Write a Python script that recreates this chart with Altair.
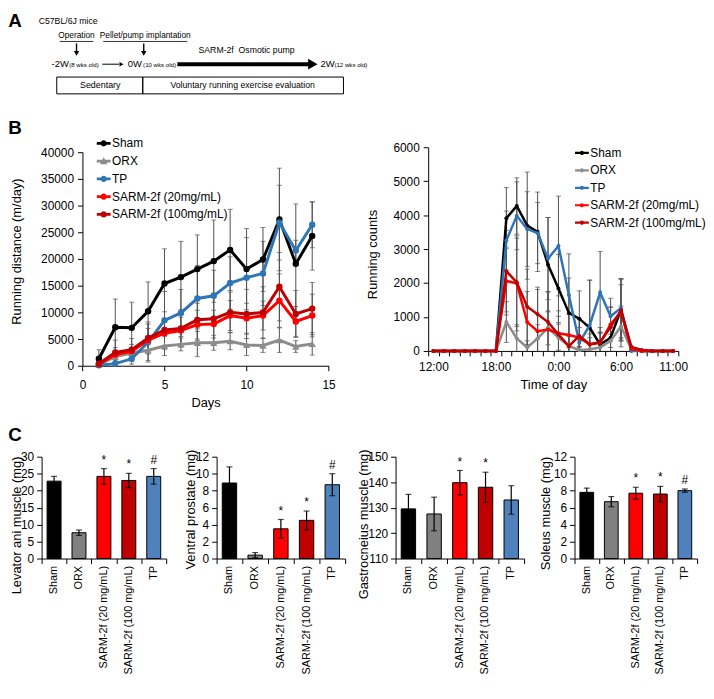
import altair as alt
import pandas as pd

FONT = "Liberation Sans, Arial, Helvetica, sans-serif"

# ======================= DATA =======================
series = ["Sham", "ORX", "TP", "SARM-2f (20mg/mL)", "SARM-2f (100mg/mL)"]
series_colors = ["#000000", "#8c8c8c", "#2e75b6", "#ff0000", "#c00000"]

# Panel B (left): running distance, m/day
days = [1, 2, 3, 4, 5, 6, 7, 8, 9, 10, 11, 12, 13, 14]
dist_sham = [1300, 7200, 7100, 10200, 15400, 16600, 18100, 19600, 21700, 18100, 19900, 27400, 19100, 24300]
dist_orx = [200, 1700, 2400, 2900, 3700, 4000, 4300, 4300, 4600, 3900, 3800, 4800, 3600, 4100]
dist_tp = [100, 400, 1300, 4400, 8500, 9900, 12600, 13100, 15500, 16500, 17300, 26800, 21600, 26400]
dist_s20 = [300, 2100, 2700, 4800, 6100, 6600, 7700, 7800, 9400, 8900, 9400, 12200, 8300, 9400]
dist_s100 = [400, 2500, 3000, 5200, 6700, 7000, 8600, 8800, 10000, 9700, 10000, 14800, 9700, 10700]
sd_dist_sham = [1700, 5300, 4800, 5500, 6500, 6700, 6400, 7700, 7600, 7600, 6000, 9600, 11200, 6400]
sd_dist_orx = [300, 800, 900, 2200, 1800, 1200, 2600, 1400, 1600, 2000, 1300, 2300, 1100, 2100]
sd_dist_tp = [300, 700, 1000, 3400, 5400, 4400, 6200, 4800, 4900, 7500, 6000, 7000, 1900, 4300]
sd_dist_s20 = [400, 1300, 1300, 2200, 2600, 2500, 2700, 2600, 2800, 2800, 2700, 5000, 2800, 4000]
sd_dist_s100 = [500, 2300, 2100, 3000, 3400, 3500, 3900, 4800, 3800, 4600, 4800, 6400, 4400, 4900]

# Panel B (right): running counts by time of day
hours = ["12:00", "13:00", "14:00", "15:00", "16:00", "17:00", "18:00", "19:00",
         "20:00", "21:00", "22:00", "23:00", "0:00", "1:00", "2:00", "3:00",
         "4:00", "5:00", "6:00", "7:00", "8:00", "9:00", "10:00", "11:00"]
hour_labels = ["12:00", "18:00", "0:00", "6:00", "11:00"]
cnt_sham = [0, 0, 0, 0, 0, 0, 0, 3910, 4270, 3690, 3510, 2540, 1840, 1120, 950, 680, 190, 390, 1210, 20, 0, 0, 0, 0]
cnt_orx = [0, 0, 0, 0, 0, 0, 0, 850, 370, 100, 370, 680, 390, 150, 20, 50, 100, 300, 720, 50, 0, 0, 0, 0]
cnt_tp = [0, 0, 0, 0, 0, 0, 0, 3250, 3980, 3590, 3470, 2720, 3090, 1650, 240, 760, 1720, 1020, 1260, 0, 0, 0, 0, 0]
cnt_s20 = [0, 0, 0, 0, 0, 0, 0, 2060, 1990, 850, 580, 630, 520, 470, 390, 190, 240, 780, 1150, 60, 0, 0, 0, 0]
cnt_s100 = [0, 0, 0, 0, 0, 0, 0, 2350, 2020, 1300, 1080, 850, 480, 140, 440, 200, 260, 700, 1200, 120, 30, 0, 0, 0]
sd_cnt_sham = [0, 0, 0, 0, 0, 0, 0, 900, 830, 1580, 1170, 1390, 1000, 1030, 820, 1400, 500, 400, 920, 0, 0, 0, 0, 0]
sd_cnt_orx = [0, 0, 0, 0, 0, 0, 0, 600, 400, 200, 400, 500, 400, 300, 100, 150, 200, 400, 600, 0, 0, 0, 0, 0]
sd_cnt_tp = [0, 0, 0, 0, 0, 0, 0, 870, 1000, 1100, 900, 1210, 1470, 1210, 700, 1330, 1210, 530, 870, 0, 0, 0, 0, 0]
sd_cnt_s20 = [0, 0, 0, 0, 0, 0, 0, 1000, 1400, 900, 1300, 1100, 500, 600, 300, 200, 300, 500, 800, 0, 0, 0, 0, 0]
sd_cnt_s100 = [0, 0, 0, 0, 0, 0, 0, 1200, 1300, 1110, 730, 900, 700, 300, 500, 300, 300, 600, 900, 0, 0, 0, 0, 0]

# Panel C: organ weights
groups = ["Sham", "ORX", "SARM-2f (20 mg/mL)", "SARM-2f (100 mg/mL)", "TP"]
group_colors = ["#000000", "#808080", "#ff0000", "#c00000", "#4f81bd"]
levator_mean = [22.8, 7.6, 24.2, 23.0, 24.2]
levator_sd = [1.4, 0.8, 2.3, 2.1, 2.3]
levator_sig = ["", "", "*", "*", "#"]
prostate_mean = [8.9, 0.4, 3.5, 4.5, 8.7]
prostate_sd = [1.9, 0.3, 1.1, 1.1, 1.3]
prostate_sig = ["", "", "*", "*", "#"]
gastro_mean = [129.5, 127.5, 139.8, 138.0, 133.0]
gastro_sd = [5.7, 6.6, 4.8, 5.9, 5.6]
gastro_sig = ["", "", "*", "*", ""]
soleus_mean = [7.8, 6.7, 7.7, 7.6, 8.0]
soleus_sd = [0.5, 0.6, 0.7, 0.9, 0.2]
soleus_sig = ["", "", "*", "*", "#"]

# ======================= HELPERS =======================
ERR = "#505050"
ORIGIN = 33.7          # common left origin of every row (canvas px)
SHIFT_B = 41.3         # extra inset of the left line chart's plot area
DROP_L = 5             # left line chart's plot sits a little lower than the right one


def long_frame(xname, xs, means, sds):
    rows = []
    for s, m_list, sd_list in zip(series, means, sds):
        for x, m, sd in zip(xs, m_list, sd_list):
            rows.append({xname: x, "s": s, "v": m, "sd": sd,
                         "lo": max(m - sd, 0), "hi": m + sd})
    return pd.DataFrame(rows)


def caps_frame(df, xname):
    rows = []
    for _, r in df[df.sd > 0].iterrows():
        rows.append({xname: r[xname], "c": r["hi"]})
        if r["lo"] > 0:
            rows.append({xname: r[xname], "c": r["lo"]})
    return pd.DataFrame(rows)


def color_scale():
    return alt.Scale(domain=series, range=series_colors)


def letter(t, x, y):
    return alt.Chart(pd.DataFrame({"t": [t]})).mark_text(
        fontSize=19, fontWeight="bold", align="left", baseline="top", font=FONT, fill="black"
    ).encode(text="t:N", x=alt.value(x), y=alt.value(y))


def independent(ch):
    return ch.resolve_scale(color="independent", shape="independent").resolve_legend(
        color="independent", shape="independent")


# legend symbols: line + marker (custom symbol paths)
PATH_CIRCLE = "M-1,-0.2H1V0.2H-1Z M0.45,0A0.45,0.45 0 1,1 -0.45,0A0.45,0.45 0 1,1 0.45,0Z"
PATH_TRI = "M-1,-0.2H1V0.2H-1Z M0,-0.55L0.55,0.45L-0.55,0.45Z"
PATH_SMALL = "M-1,-0.16H1V0.16H-1Z M0.3,0A0.3,0.3 0 1,1 -0.3,0A0.3,0.3 0 1,1 0.3,0Z"


def legend_layers(paths, x_sym, x_text, y_range):
    ldf = pd.DataFrame({"s": series})
    ly = alt.Y("s:N", scale=alt.Scale(type="point", domain=series, range=y_range, padding=0), axis=None)
    sym = alt.Chart(ldf).mark_point(filled=True, opacity=1, size=196, strokeWidth=0).encode(
        x=alt.value(x_sym), y=ly,
        color=alt.Color("s:N", scale=color_scale(), legend=None),
        shape=alt.Shape("s:N", scale=alt.Scale(domain=series, range=paths), legend=None))
    txt = alt.Chart(ldf).mark_text(align="left", baseline="middle", fontSize=12, font=FONT, fill="black").encode(
        x=alt.value(x_text), y=ly, text="s:N")
    return alt.layer(sym, txt)


# ======================= PANEL A (schematic) =======================
a_text = pd.DataFrame({
    "t": ["C57BL/6J mice", "Operation", "Pellet/pump implantation",
          "SARM-2f\u00a0\u00a0Osmotic pump", "-2W", "(8 wks old)", "0W",
          "(10 wks old)", "2W", "(12 wks old)", "Sedentary",
          "Voluntary running exercise evaluation"],
    "x": [60.5, 69, 138.5, 241, 52.5, 76.5, 128, 153, 323, 346.5, 93, 237],
    "y": [9, 24, 24, 39, 53, 53.5, 53, 53.5, 53, 53.5, 74.5, 74.5],
    "fs": [8.8, 8.4, 8.4, 8.8, 9.5, 6.2, 9.5, 6.2, 9.5, 6.2, 9, 8.8],
})
a_rules = pd.DataFrame({
    "x": [52, 96, 69, 137, 95, 171],
    "x2": [86, 181, 69, 137, 112, 304],
    "y": [30, 30, 32, 32, 53, 53],
    "y2": [30, 30, 40, 40, 53, 53],
    "w": [0.8, 0.8, 1.4, 1.4, 1, 4],
})
a_heads = pd.DataFrame({
    "x": [69, 137, 114.5, 308],
    "y": [42, 42, 53, 53],
    "sh": ["triangle-down", "triangle-down", "triangle-right", "triangle-right"],
    "sz": [30, 30, 22, 120],
})
a_boxes = pd.DataFrame({"x": [49, 136], "x2": [136, 339], "y": [66, 66], "y2": [83, 83]})
for _df, _cols in ((a_text, ["x"]), (a_rules, ["x", "x2"]), (a_heads, ["x"]), (a_boxes, ["x", "x2"])):
    for _c in _cols:
        _df[_c] = _df[_c] - ORIGIN

pA_text = alt.Chart(a_text).mark_text(font=FONT, baseline="middle", align="center", fill="black").encode(
    x=alt.X("x:Q", scale=None), y=alt.Y("y:Q", scale=None), text="t:N", size=alt.Size("fs:Q", scale=None))
pA_rules = alt.Chart(a_rules).mark_rule(color="black").encode(
    x=alt.X("x:Q", scale=None), x2="x2:Q", y=alt.Y("y:Q", scale=None), y2="y2:Q",
    strokeWidth=alt.StrokeWidth("w:Q", scale=None))
pA_heads = alt.Chart(a_heads).mark_point(filled=True, color="black", opacity=1).encode(
    x=alt.X("x:Q", scale=None), y=alt.Y("y:Q", scale=None),
    shape=alt.Shape("sh:N", scale=None), size=alt.Size("sz:Q", scale=None))
pA_boxes = alt.Chart(a_boxes).mark_rect(fill="transparent", stroke="black", strokeWidth=1).encode(
    x=alt.X("x:Q", scale=None), x2="x2:Q", y=alt.Y("y:Q", scale=None), y2="y2:Q")
panelA = alt.layer(pA_boxes, pA_rules, pA_heads, pA_text, letter("A", -ORIGIN, 0)).properties(width=310, height=92)

# ======================= PANEL B left =======================
WL, HL = 249, 216
dfL = long_frame("day", days, [dist_sham, dist_orx, dist_tp, dist_s20, dist_s100],
                 [sd_dist_sham, sd_dist_orx, sd_dist_tp, sd_dist_s20, sd_dist_s100])
capsL = caps_frame(dfL, "day")
xL = alt.X("day:Q", scale=alt.Scale(domain=[0, 15], nice=False, range=[SHIFT_B, SHIFT_B + WL]),
           axis=alt.Axis(values=[0, 5, 10, 15], title="Days", tickSize=5, labelPadding=9, titlePadding=6))
yscL = alt.Scale(domain=[0, 40000], nice=False, range=[DROP_L + HL, DROP_L])
axL = alt.Axis(values=list(range(0, 40001, 5000)), format="d", title="Running distance (m/day)",
               titleX=-60, titleY=105, tickSize=5, labelPadding=4, offset=-SHIFT_B)


def yL(f):
    return alt.Y(f, scale=yscL, axis=axL)


layersL = [
    alt.Chart(dfL[dfL.sd > 0]).mark_rule(color=ERR, strokeWidth=1).encode(x=xL, y=yL("lo:Q"), y2="hi:Q"),
    alt.Chart(capsL).mark_tick(orient="horizontal", size=5, thickness=1, color=ERR).encode(x=xL, y=yL("c:Q")),
]
for s in series:
    sub = dfL[dfL.s == s]
    col = alt.Color("s:N", scale=color_scale(), legend=None)
    layersL.append(alt.Chart(sub).mark_line(strokeWidth=3).encode(x=xL, y=yL("v:Q"), color=col))
    layersL.append(alt.Chart(sub).mark_point(
        filled=True, opacity=1, size=55 if s == "ORX" else 42,
        shape="triangle-up" if s == "ORX" else "circle").encode(x=xL, y=yL("v:Q"), color=col))

chartL = alt.layer(
    alt.layer(*layersL),
    legend_layers([PATH_CIRCLE, PATH_TRI, PATH_CIRCLE, PATH_CIRCLE, PATH_CIRCLE],
                  SHIFT_B + 21.5, SHIFT_B + 30, [-4, 68]),
    letter("B", SHIFT_B - 75, -28),
).resolve_scale(y="independent").properties(width=SHIFT_B + WL, height=DROP_L + HL)

# ======================= PANEL B right =======================
dfR = long_frame("hour", hours, [cnt_sham, cnt_orx, cnt_tp, cnt_s20, cnt_s100],
                 [sd_cnt_sham, sd_cnt_orx, sd_cnt_tp, sd_cnt_s20, sd_cnt_s100])
capsR = caps_frame(dfR, "hour")
xR = alt.X("hour:O", scale=alt.Scale(type="point", domain=hours, padding=0.5),
           axis=alt.Axis(values=hour_labels, labelAngle=0, ticks=False, tickSize=0, domain=False,
                         title="Time of day", labelPadding=11, titlePadding=6, orient="bottom"))
yscR = alt.Scale(domain=[0, 6000], nice=False)
axR = alt.Axis(values=list(range(0, 6001, 1000)), format="d", title="Running counts",
               titleX=-49, titleY=108, tickSize=5, labelPadding=4)


def yR(f):
    return alt.Y(f, scale=yscR, axis=axR)


layersR = [
    alt.Chart(dfR[dfR.sd > 0]).mark_rule(color=ERR, strokeWidth=1).encode(x=xR, y=yR("lo:Q"), y2="hi:Q"),
    alt.Chart(capsR).mark_tick(orient="horizontal", size=5, thickness=1, color=ERR).encode(x=xR, y=yR("c:Q")),
]
for s in series:
    sub = dfR[dfR.s == s]
    col = alt.Color("s:N", scale=color_scale(), legend=None)
    layersR.append(alt.Chart(sub).mark_line(strokeWidth=2.5).encode(x=xR, y=yR("v:Q"), color=col))
    layersR.append(alt.Chart(sub).mark_point(filled=True, opacity=1, size=16, shape="circle").encode(
        x=xR, y=yR("v:Q"), color=col))
ticksR = alt.Chart(pd.DataFrame({"b": [0, len(hours)]})).mark_point(opacity=0).encode(
    x=alt.X("b:Q", scale=alt.Scale(domain=[0, len(hours)], nice=False, zero=False),
            axis=alt.Axis(values=list(range(len(hours) + 1)), labels=False, title=None,
                          tickSize=5, domain=True, grid=False, orient="bottom")),
    y=alt.value(0))
chartR = alt.layer(
    alt.layer(*layersR), ticksR,
    legend_layers([PATH_SMALL] * 5, 155.5, 164, [5.7, 76.3]),
).resolve_scale(x="independent", y="independent").properties(width=253, height=206)

rowB = independent(alt.hconcat(chartL, chartR, spacing=100, bounds="flush"))


# ======================= PANEL C =======================
def bar_panel(means, sds, sig, domain, step, title, width, title_x, title_y, with_letter=False):
    df = pd.DataFrame({"g": groups, "m": means, "sd": sds, "sig": sig})
    df["hi"] = df["m"] + df["sd"]
    df["lo"] = df["m"] - df["sd"]
    xB = alt.X("g:N", sort=groups,
               scale=alt.Scale(domain=groups, paddingInner=0.44, paddingOuter=0.22),
               axis=alt.Axis(title=None, labelAngle=270, ticks=False, tickSize=0, domain=False,
                             labelPadding=7, labelFontSize=11, orient="bottom"))
    ysc = alt.Scale(domain=domain, nice=False, zero=False)
    yax = alt.Axis(values=list(range(domain[0], domain[1] + 1, step)), title=title,
                   titleX=title_x, titleY=title_y, tickSize=5, labelPadding=3)
    bars = alt.Chart(df).mark_bar(stroke="black", strokeWidth=1).encode(
        x=xB, y=alt.Y("m:Q", scale=ysc, axis=yax), y2=alt.datum(domain[0]),
        color=alt.Color("g:N", scale=alt.Scale(domain=groups, range=group_colors), legend=None))
    err = alt.Chart(df).mark_rule(color="black", strokeWidth=1.2).encode(
        x=xB, y=alt.Y("lo:Q", scale=ysc, axis=yax), y2="hi:Q")
    caps = alt.Chart(df).transform_fold(["lo", "hi"], as_=["k", "c"]).mark_tick(
        orient="horizontal", size=6, thickness=1.2, color="black").encode(
        x=xB, y=alt.Y("c:Q", scale=ysc, axis=yax))
    stars = alt.Chart(df).transform_filter("datum.sig != ''").mark_text(
        fontSize=12, baseline="middle", dy=-9, font=FONT, fill="black").encode(
        x=xB, y=alt.Y("hi:Q", scale=ysc, axis=yax), text="sig:N")
    inner_layers = [bars, err, caps, stars]
    if with_letter:
        inner_layers.append(letter("C", -ORIGIN, -31))
    ticks = alt.Chart(pd.DataFrame({"b": [0, len(groups)]})).mark_point(opacity=0).encode(
        x=alt.X("b:Q", scale=alt.Scale(domain=[0, len(groups)], nice=False, zero=False),
                axis=alt.Axis(values=list(range(len(groups) + 1)), labels=False, title=None,
                              tickSize=5, domain=True, grid=False, orient="bottom")),
        y=alt.value(0))
    return alt.layer(alt.layer(*inner_layers), ticks).resolve_scale(x="independent").properties(
        width=width, height=103)


c1 = bar_panel(levator_mean, levator_sd, levator_sig, [0, 30], 5, "Levator ani muscle (mg)", 126, -18, 69, True)
c2 = bar_panel(prostate_mean, prostate_sd, prostate_sig, [0, 12], 2, "Ventral prostate (mg)", 130, -19, 53)
c3 = bar_panel(gastro_mean, gastro_sd, gastro_sig, [110, 150], 10, "Gastrocneius muscle (mg)", 130, -25, 68)
c4 = bar_panel(soleus_mean, soleus_sd, soleus_sig, [0, 12], 2, "Soleus muscle (mg)", 124, -22, 57)
rowC = independent(alt.hconcat(c1, c2, c3, c4, spacing=51, bounds="flush"))

chart = independent(alt.vconcat(panelA, rowB, rowC, spacing=17, padding=0)).configure(
    font=FONT
).configure_view(stroke=None).configure_axis(
    domainColor="black", tickColor="black", labelColor="black", titleColor="black",
    labelFont=FONT, titleFont=FONT, labelFontSize=12, titleFontSize=13,
    titleFontWeight="normal", grid=False, domainWidth=1, tickWidth=1,
    labelFlush=False, labelOverlap=False
)

chart.save("out.html", embed_options={"renderer": "svg", "actions": False})
